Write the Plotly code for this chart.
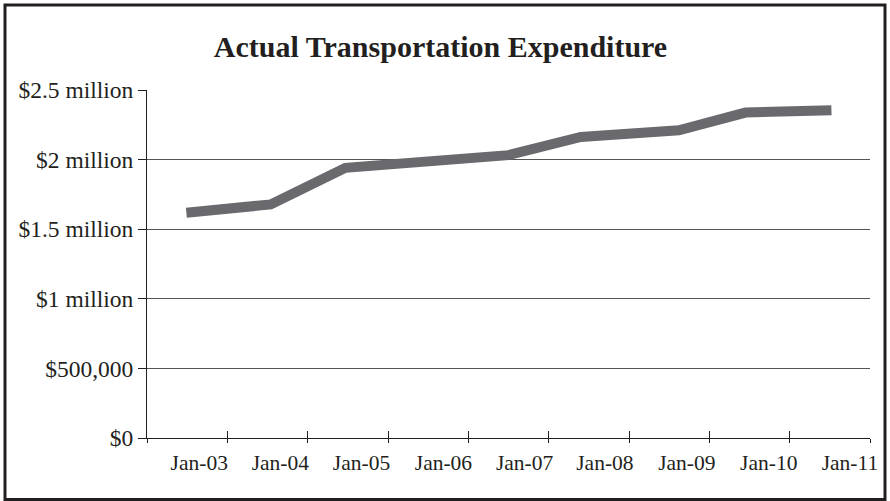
import plotly.graph_objects as go

# ---- data ----
title_text = "Actual Transportation Expenditure"
period_pos = [0.49, 1.54, 2.47, 4.50, 5.40, 6.62, 7.45, 8.52]          # position on the time axis (years from axis start)
spend_values = [1618000, 1678000, 1941000, 2032000, 2163000, 2211000, 2338000, 2354000]
x_tick_marks = [0, 1, 2, 3, 4, 5, 6, 7, 8, 9]
x_label_pos = [0.65, 1.66, 2.67, 3.69, 4.70, 5.70, 6.72, 7.74, 8.75]
x_labels = ["Jan-03", "Jan-04", "Jan-05", "Jan-06", "Jan-07", "Jan-08", "Jan-09", "Jan-10", "Jan-11"]
y_ticks = [0, 500000, 1000000, 1500000, 2000000, 2500000]
y_labels = ["$0", "$500,000", "$1 million", "$1.5 million", "$2 million", "$2.5 million"]

W, H = 890, 501
L, R, T, B = 147, 20, 90, 63
PW, PH = W - L - R, H - T - B
FONT = "Liberation Serif, Times New Roman, serif"
INK = "#231f20"

fig = go.Figure()
fig.add_trace(go.Scatter(
    x=period_pos, y=spend_values, mode="lines",
    line=dict(color="#6a6a6e", width=10),
    hoverinfo="skip", showlegend=False,
))
fig.add_trace(go.Scatter(x=[None], y=[None], xaxis="x2", showlegend=False, hoverinfo="skip"))
fig.add_trace(go.Scatter(x=[None], y=[None], xaxis="x3", showlegend=False, hoverinfo="skip"))

fig.update_layout(
    width=W, height=H,
    margin=dict(l=L, r=R, t=T, b=B),
    paper_bgcolor="white", plot_bgcolor="white",
    font=dict(family=FONT, color=INK, size=21),
    title=dict(text="<b>" + title_text + "</b>", x=440.5 / W, xref="container", xanchor="center",
               y=1 - 46 / H, yref="container", yanchor="middle",
               font=dict(family=FONT, size=30, color=INK)),
    xaxis=dict(range=[0, 9], tickvals=x_tick_marks, ticktext=[""] * len(x_tick_marks),
               ticks="inside", ticklen=7, tickcolor=INK, tickwidth=1,
               showline=True, linecolor=INK, linewidth=1, showgrid=False, zeroline=False,
               showticklabels=False, fixedrange=True),
    xaxis2=dict(range=[0, 9], overlaying="x", anchor="y", side="bottom",
                tickvals=x_tick_marks, ticktext=[""] * len(x_tick_marks),
                ticks="outside", ticklen=4, tickcolor=INK, tickwidth=1,
                showline=False, showgrid=False, zeroline=False, showticklabels=False),
    xaxis3=dict(range=[0, 9], overlaying="x", anchor="y", side="bottom",
                tickvals=x_label_pos, ticktext=x_labels, ticks="", ticklen=0,
                showline=False, showgrid=False, zeroline=False,
                tickfont=dict(family=FONT, size=21.5, color=INK), ticklabelstandoff=9),
    yaxis=dict(range=[0, 2500000], tickvals=y_ticks, ticktext=y_labels,
               ticks="outside", ticklen=8, tickcolor=INK, tickwidth=1,
               showline=True, linecolor=INK, linewidth=1,
               showgrid=True, gridcolor="#555555", gridwidth=1, zeroline=False,
               tickfont=dict(family=FONT, size=23.5, color=INK), fixedrange=True),
)

# outer frame around the whole chart
fig.add_shape(type="rect", xref="paper", yref="paper",
              x0=(5 - L) / PW, x1=(885 - L) / PW,
              y0=(H - B - 499.5) / PH, y1=(H - B - 5) / PH,
              line=dict(color=INK, width=3), fillcolor="rgba(0,0,0,0)", layer="above")

fig.write_html("out.html", config={"displayModeBar": False},
               post_script="document.body.style.margin='0';document.body.style.padding='0';")
